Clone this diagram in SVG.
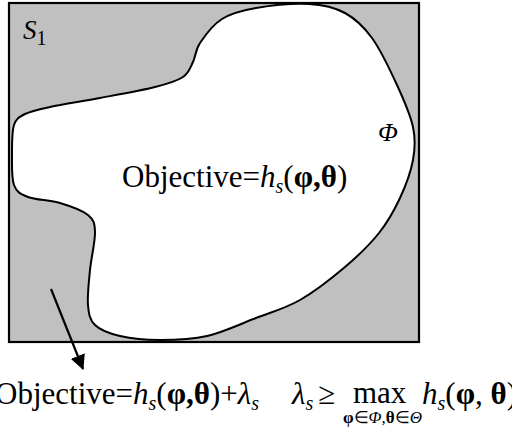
<svg xmlns="http://www.w3.org/2000/svg" width="512" height="432" viewBox="0 0 512 432">
<style>
text{font-family:"Liberation Serif","Times New Roman",serif;fill:#000}
.it{font-style:italic}
.b{font-weight:bold}
</style>
<defs>
<marker id="ah" markerWidth="15" markerHeight="16" refX="14" refY="8" orient="auto" markerUnits="userSpaceOnUse" viewBox="0 0 15 16">
<path d="M0,0.5 L15,8 L0,15.5 Z" fill="#000"/>
</marker>
</defs>
<g id="region-S1">
<rect x="9" y="3" width="410" height="339" fill="#c0c0c0" stroke="#000" stroke-width="2.2"/>
<text x="23" y="39" font-size="27"><tspan class="it">S</tspan><tspan font-size="20" dy="6">1</tspan></text>
</g>
<g id="region-Phi">
<path d="M256,8 C270.5,5.5 294.2,3.2 309,4 C323.8,4.8 334.5,7.3 345,13 C355.5,18.7 363.3,26 372,38 C380.7,50 390.2,70.2 397,85 C403.8,99.8 410.3,114.5 413,127 C415.7,139.5 415.2,148.2 413,160 C410.8,171.8 405.7,185.8 400,198 C394.3,210.2 388.2,221.5 379,233 C369.8,244.5 358.2,255.8 345,267 C331.8,278.2 314.8,291.5 300,300 C285.2,308.5 271.5,312 256,318 C240.5,324 223,332.3 207,336 C191,339.7 174.5,340 160,340 C145.5,340 130.8,338.5 120,336 C109.2,333.5 100.3,330.2 95,325 C89.7,319.8 88.8,314.2 88,305 C87.2,295.8 88.8,282.2 90,270 C91.2,257.8 95.3,241.2 95,232 C94.7,222.8 93.8,219.8 88,215 C82.2,210.2 70,206 60,203 C50,200 35.7,200 28,197 C20.3,194 16.7,192.3 14,185 C11.3,177.7 12,163 12,153 C12,143 11.8,131.5 14,125 C16.2,118.5 19,117 25,114 C31,111 37.5,109.7 50,107 C62.5,104.3 82.5,101.3 100,98 C117.5,94.7 141.2,90.5 155,87 C168.8,83.5 176.7,81.2 183,77 C189.3,72.8 190.2,67.7 193,62 C195.8,56.3 195.2,50.2 200,43 C204.8,35.8 212.7,24.8 222,19 C231.3,13.2 241.5,10.5 256,8 Z" fill="#fff" stroke="#000" stroke-width="2"/>
<text x="378" y="141" font-size="26" class="it">Φ</text>
<text x="122" y="187" font-size="31">Objective=<tspan class="it">h</tspan><tspan class="it" font-size="20" dy="6">s</tspan><tspan dy="-6">(</tspan><tspan class="b">φ,θ</tspan>)</text>
</g>
<g id="connectors">
<line x1="51" y1="289" x2="83" y2="369" stroke="#000" stroke-width="2.2" marker-end="url(#ah)"/>
</g>
<g id="label-bottom">
<text x="-5" y="404" font-size="31">Objective=<tspan class="it">h</tspan><tspan class="it" font-size="20" dy="6">s</tspan><tspan dy="-6">(</tspan><tspan class="b">φ,θ</tspan>)+<tspan class="it">λ</tspan><tspan class="it" font-size="20" dy="6">s</tspan></text>
<text x="292" y="404" font-size="31"><tspan class="it">λ</tspan><tspan class="it" font-size="20" dy="6">s</tspan><tspan x="318" dy="-6">≥</tspan></text>
<text x="353" y="403" font-size="31">max</text>
<text x="343" y="423" font-size="17"><tspan class="b">φ</tspan>∈<tspan class="it">Φ</tspan>,<tspan class="b">θ</tspan>∈<tspan class="it">Θ</tspan></text>
<text x="422" y="404" font-size="31"><tspan class="it">h</tspan><tspan class="it" font-size="20" dy="6">s</tspan><tspan dy="-6">(</tspan><tspan class="b">φ</tspan>, <tspan class="b">θ</tspan>)</text>
</g>
</svg>
